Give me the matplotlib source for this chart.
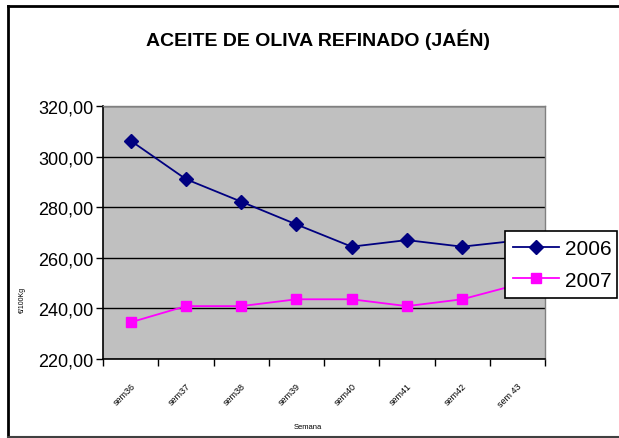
import numpy as np
import matplotlib.pyplot as plt
from matplotlib.lines import Line2D
from matplotlib.ticker import FixedLocator, FuncFormatter

# data
semanas = ['sem36', 'sem37', 'sem38', 'sem39', 'sem40', 'sem41', 'sem42', 'sem 43']
precio_2006 = [306.3, 291.1, 282.2, 273.2, 264.4, 267.0, 264.4, 266.8]
precio_2007 = [234.5, 240.9, 240.9, 243.6, 243.6, 240.9, 243.6, 249.4]
y_ticks = [220, 240, 260, 280, 300, 320]


def main():
    plt.rcParams['font.family'] = ['Liberation Sans', 'DejaVu Sans']

    W, H = 619, 439
    fig = plt.figure(figsize=(W / 100, H / 100), dpi=100)

    # outer frame of the chart object (left, top, bottom only; right is cut off)
    fx0, fy_top, fy_bot = 7.5 / W, 1 - 6.5 / H, 1 - 437.5 / H
    fig.lines.append(Line2D([fx0, fx0], [fy_bot, fy_top], transform=fig.transFigure,
                            color='black', lw=2))
    fig.lines.append(Line2D([fx0, 1], [fy_top, fy_top], transform=fig.transFigure,
                            color='black', lw=2))
    fig.lines.append(Line2D([fx0, 1], [fy_bot, fy_bot], transform=fig.transFigure,
                            color='#404040', lw=1.5))

    # plot area in pixel coords
    left, right, top, bottom = 103, 545, 107, 360
    ax = fig.add_axes([left / W, 1 - bottom / H, (right - left) / W, (bottom - top) / H])
    ax.set_facecolor('#C0C0C0')

    x = np.arange(len(semanas))
    ax.plot(x, precio_2006, color='#000080', lw=1.3, marker='D', ms=7.5,
            label='2006', zorder=3)
    ax.plot(x, precio_2007, color='#FF00FF', lw=1.3, marker='s', ms=7,
            label='2007', zorder=3)

    ax.set_xlim(-0.5, len(semanas) - 0.5)
    ax.set_ylim(220, 320)

    ax.set_yticks(y_ticks)
    ax.yaxis.set_major_formatter(FuncFormatter(lambda v, p: f'{v:.2f}'.replace('.', ',')))
    ax.tick_params(axis='y', direction='out', length=5, width=1, labelsize=13, pad=2)
    ax.grid(axis='y', color='black', lw=1)
    ax.set_axisbelow(True)

    # category labels centered, ticks between categories
    ax.set_xticks(x)
    ax.set_xticklabels(semanas, rotation=45, ha='right', rotation_mode='anchor',
                       fontsize=6.5)
    ax.tick_params(axis='x', which='major', length=0, pad=16)
    ax.xaxis.set_minor_locator(FixedLocator(np.arange(len(semanas) + 1) - 0.5))
    ax.tick_params(axis='x', which='minor', direction='out', length=5, width=1)

    for s in ['left', 'bottom']:
        ax.spines[s].set_color('black')
        ax.spines[s].set_linewidth(1.2)
    for s in ['top', 'right']:
        ax.spines[s].set_color('#808080')
        ax.spines[s].set_linewidth(1)

    fig.text(318 / W, 1 - 40 / H, 'ACEITE DE OLIVA REFINADO (JAÉN)',
             ha='center', va='center', fontsize=14, fontweight='bold')
    fig.text(22 / W, 1 - 300 / H, '€/100Kg', rotation=90, ha='center',
             va='center', fontsize=5)
    fig.text(308 / W, 1 - 428 / H, 'Semana', ha='center', va='center',
             fontsize=5.5)

    leg = fig.legend(loc='lower left', bbox_to_anchor=(505 / W, 1 - 299 / H, 112 / W, 82 / H),
                     mode='expand', fontsize=15, frameon=True, fancybox=False,
                     handlelength=2.2, handletextpad=0.3, labelspacing=0.6,
                     borderpad=0.4, borderaxespad=0)
    leg.get_frame().set_edgecolor('black')
    leg.get_frame().set_linewidth(1.2)
    leg.get_frame().set_alpha(1)

    fig.savefig('out.png', dpi=100)


if __name__ == "__main__":
    main()
